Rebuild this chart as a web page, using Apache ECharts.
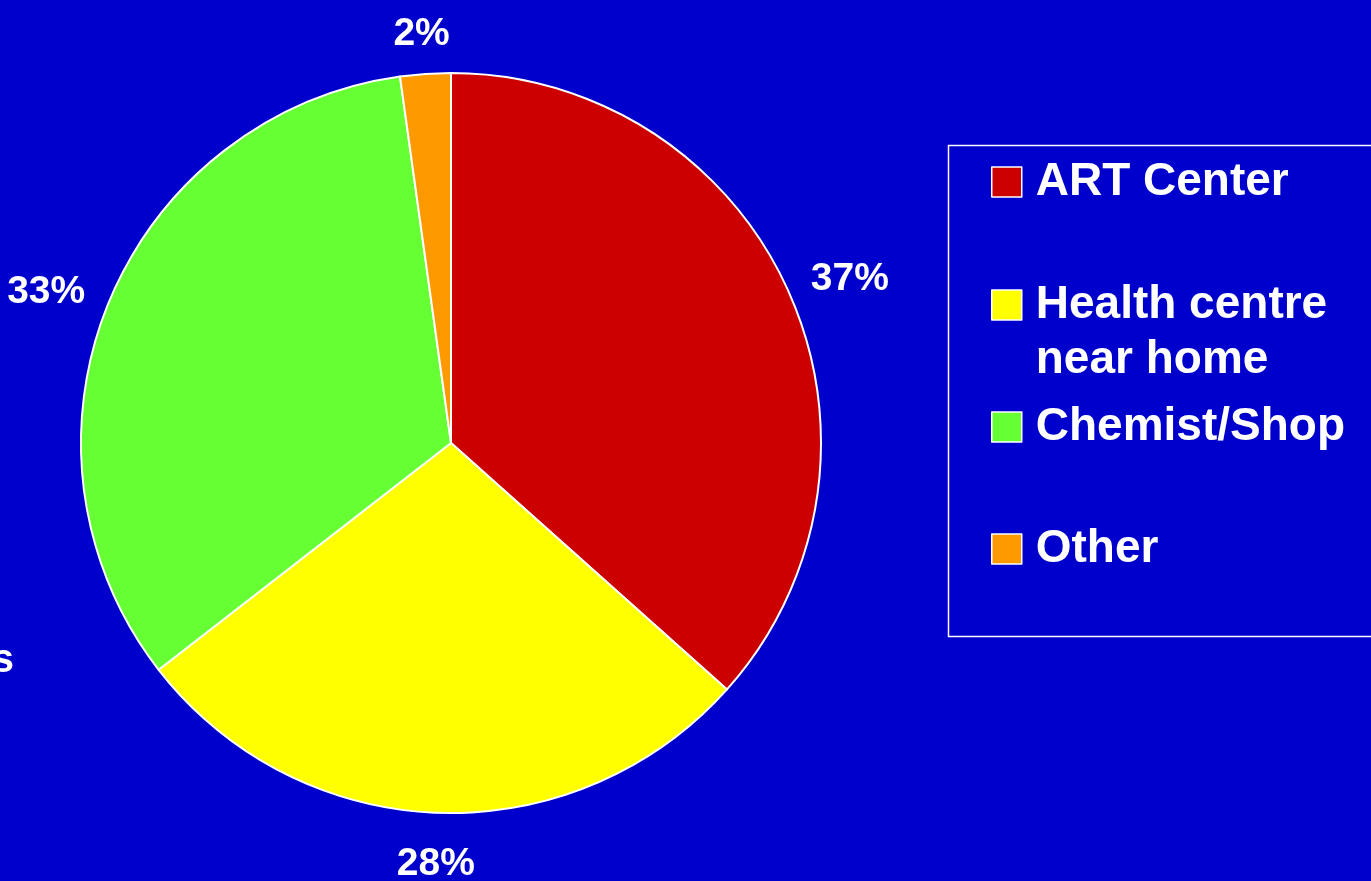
<!DOCTYPE html>
<html>
<head>
<meta charset="utf-8">
<script src="https://cdn.jsdelivr.net/npm/echarts@6/dist/echarts.min.js"></script>
<style>
  html, body { margin: 0; padding: 0; background: #0000cc; }
  #chart { width: 1371px; height: 881px; }
</style>
</head>
<body>
<div id="chart"></div>
<script>
// slice names and their shares (percent), read clockwise from 12 o'clock
const categories = ['ART Center', 'Health centre\nnear home', 'Chemist/Shop', 'Other']
const shares = [36.6, 27.9, 33.3, 2.2]

const palette = ['#cc0000', '#ffff00', '#66ff33', '#ff9900']
const font = "'Liberation Sans', Arial, sans-serif"

const center = [451, 443]
const radius = 370
const labelGap = 26

// mid angle of each slice, clockwise from top, in radians
const total = shares.reduce((a, b) => a + b, 0)
let acc = 0
const midAngles = shares.map((v) => {
  const mid = (acc + v / 2) / total * Math.PI * 2
  acc += v
  return mid
})

const chart = echarts.init(document.getElementById('chart'))

// one legend per entry so the icons sit at even spacing;
// a two-line name gets an empty first line so its first line lines up with the icon
const legendTops = [154.5, 222.5, 399.5, 521.5]
const legends = categories.map((name, i) => ({
  data: [name],
  left: 991,
  top: legendTops[i],
  padding: 0,
  icon: 'rect',
  itemWidth: 30,
  itemHeight: 30,
  itemGap: 0,
  selectedMode: false,
  itemStyle: { borderColor: '#ffffff', borderWidth: 1.5 },
  formatter: (n) => {
    const lines = n.split('\n').map((s) => '{g|}' + s)
    return (lines.length > 1 ? '\n' : '') + lines.join('\n')
  },
  textStyle: {
    color: '#ffffff',
    fontFamily: font,
    fontWeight: 'bold',
    fontSize: 46,
    lineHeight: 55,
    rich: { g: { width: 9, lineHeight: 55 } },
  },
}))

const option = {
  backgroundColor: '#0000cc',
  animation: false,
  color: palette,
  legend: legends,
  graphic: [
    {
      type: 'rect',
      shape: { x: 948.5, y: 145.5, width: 520, height: 491 },
      style: { fill: 'none', stroke: '#ffffff', lineWidth: 1.5 },
      silent: true,
    },
    {
      type: 'text',
      x: 14,
      y: 661,
      style: {
        text: 's',
        fill: '#ffffff',
        font: 'bold 40px ' + font,
        align: 'right',
        verticalAlign: 'middle',
      },
      silent: true,
    },
  ],
  series: [
    {
      type: 'pie',
      center: center,
      radius: radius,
      startAngle: 90,
      clockwise: true,
      silent: true,
      itemStyle: { borderColor: '#ffffff', borderWidth: 2 },
      labelLine: { show: false },
      label: {
        show: true,
        position: 'outside',
        overflow: 'none',
        color: '#ffffff',
        fontFamily: font,
        fontWeight: 'bold',
        fontSize: 39,
        formatter: (p) => Math.round(p.percent) + '%',
      },
      // label box sits just outside the rim, pushed out along the slice's mid angle
      labelLayout: (p) => {
        const a = midAngles[p.dataIndex]
        const dx = Math.sin(a)
        const dy = -Math.cos(a)
        const w = p.labelRect.width
        const h = p.labelRect.height
        return {
          x: center[0] + (radius + labelGap) * dx + dx * w / 2 + 2 * dx,
          y: center[1] + (radius + labelGap) * dy + dy * h / 2 + 6,
          align: 'center',
          verticalAlign: 'middle',
        }
      },
      data: categories.map((name, i) => ({ name: name, value: shares[i] })),
    },
  ],
}

chart.setOption(option)
</script>
</body>
</html>
